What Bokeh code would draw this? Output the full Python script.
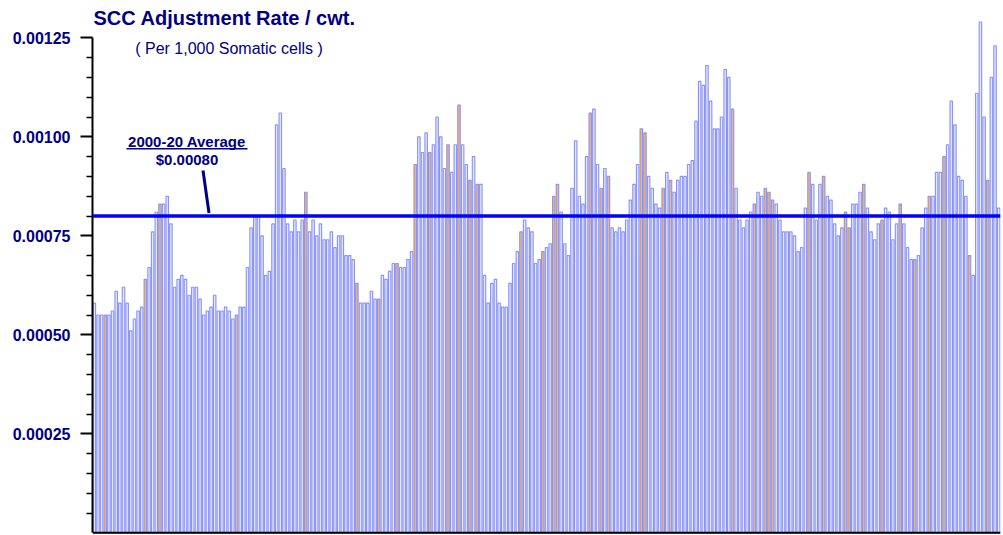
from bokeh.plotting import figure
from bokeh.models import (Range1d, FixedTicker, NumeralTickFormatter, Span, Label,
                          ColumnDataSource)
from bokeh.embed import file_html
from bokeh.resources import INLINE

# ---------------- data ----------------
title_text = "SCC Adjustment Rate / cwt."
subtitle_text = "( Per 1,000 Somatic cells )"
avg_title = "2000-20 Average"
avg_label = "$0.00080"
average_rate = 0.00080

# monthly SCC adjustment rate, $ per cwt per 1,000 cells (x 1e-5)
rate_e5 = [
    58, 55, 55, 55, 55, 56, 61, 58, 62, 58, 51, 54, 56, 57, 64, 67, 76, 81, 83, 83,
    85, 78, 62, 64, 65, 64, 60, 62, 62, 59, 55, 56, 57, 60, 56, 56, 57, 56, 54, 55,
    57, 57, 67, 77, 80, 80, 75, 65, 66, 78, 103, 106, 92, 78, 76, 79, 76, 79, 86, 76,
    79, 75, 78, 74, 74, 76, 72, 75, 75, 70, 70, 69, 63, 58, 58, 58, 61, 59, 59, 65,
    64, 66, 68, 68, 67, 67, 69, 71, 93, 100, 96, 101, 96, 98, 105, 100, 92, 98, 91, 98,
    108, 98, 93, 89, 95, 88, 88, 65, 58, 63, 64, 58, 57, 57, 63, 68, 71, 76, 79, 77,
    76, 68, 69, 71, 72, 73, 85, 88, 81, 73, 70, 87, 99, 85, 83, 95, 106, 107, 93, 87,
    92, 90, 77, 76, 77, 76, 79, 84, 88, 93, 102, 101, 90, 87, 83, 82, 87, 91, 89, 86,
    89, 90, 90, 93, 94, 104, 114, 113, 118, 109, 102, 102, 105, 117, 115, 107, 87, 79, 77, 79,
    81, 83, 86, 85, 87, 86, 84, 83, 79, 76, 76, 76, 75, 71, 72, 82, 91, 88, 79, 88,
    90, 85, 84, 78, 75, 77, 81, 77, 83, 83, 86, 88, 82, 76, 74, 78, 79, 82, 81, 74,
    78, 83, 78, 72, 69, 69, 70, 77, 82, 85, 85, 91, 91, 95, 98, 109, 103, 90, 89, 85,
    70, 65, 111, 129, 105, 89, 115, 123, 82,
]
# months drawn with an orange fill (1-based positions)
marked_months = [4, 15, 19, 40, 59, 73, 79, 84, 89, 93, 98, 101, 104, 106, 118, 124,
                 127, 128, 137, 140, 142, 151, 152, 157, 159, 176, 182, 185, 186, 187,
                 197, 201, 207, 208, 212, 217, 222, 226, 230, 234, 241, 246]

tick_values = [0.00025, 0.00050, 0.00075, 0.00100, 0.00125]

# ---------------- layout constants ----------------
FIG_W, FIG_H = 1002, 534
BORDER_L, BORDER_R = 92, 2
N = len(rate_e5)
FRAME_W = FIG_W - BORDER_L - BORDER_R
PPX = FRAME_W / N
ZERO_Y = 532.3            # page y of zero
PPU = 396000.0            # pixels per unit value
Y_START = -(FIG_H - ZERO_Y) / PPU
Y_END = ZERO_Y / PPU
X_START, X_END = 0.5, N + 0.5

def fx(page_x):
    return X_START + (page_x - BORDER_L) / PPX

def fy(page_y):
    return (ZERO_Y - page_y) / PPU

NAVY = "#000080"
FONT = "Liberation Sans"

rates = [v * 1e-5 for v in rate_e5]
months = list(range(1, N + 1))
fills = ["#f5b46c" if m in marked_months else "#e4e7ff" for m in months]
src = ColumnDataSource(dict(x=months, top=rates, fill=fills))

p = figure(width=FIG_W, height=FIG_H, output_backend="svg", toolbar_location=None,
           x_range=Range1d(X_START, X_END), y_range=Range1d(Y_START, Y_END),
           x_axis_location=None, min_border_left=BORDER_L, min_border_right=BORDER_R,
           min_border_top=0, min_border_bottom=0, title=None)
p.outline_line_color = None
p.grid.visible = False
p.background_fill_color = "white"

p.vbar(x="x", top="top", bottom=0, width=0.68, source=src, fill_color="fill",
       line_color="#8c95f6", line_width=1.15)

# y axis
ax = p.yaxis[0]
ax.ticker = FixedTicker(ticks=tick_values,
                        minor_ticks=[k * 0.00005 for k in range(1, 25) if k % 5])
ax.formatter = NumeralTickFormatter(format="0.00000")
ax.bounds = (0, 0.00125)
ax.axis_line_color = "black"
ax.axis_line_width = 2
ax.major_tick_line_color = "black"
ax.major_tick_line_width = 2
ax.major_tick_in = 0
ax.major_tick_out = 12
ax.minor_tick_line_color = "black"
ax.minor_tick_line_width = 1.5
ax.minor_tick_in = 0
ax.minor_tick_out = 6
ax.major_label_standoff = 10
ax.major_label_text_font = FONT
ax.major_label_text_font_style = "bold"
ax.major_label_text_font_size = "16px"
ax.major_label_text_color = NAVY

# baseline and average line
p.add_layout(Span(location=0, dimension="width", line_color="black", line_width=2))
p.add_layout(Span(location=average_rate, dimension="width", line_color="#0000ff",
                  line_width=3.3))

# titles (anchored at text middle)
p.add_layout(Label(x=fx(93), y=fy(17), text=title_text, text_font=FONT,
                   text_font_style="bold", text_font_size="20px", text_color=NAVY,
                   text_align="left", text_baseline="middle"))
p.add_layout(Label(x=fx(228.5), y=fy(47.5), text=subtitle_text, text_font=FONT,
                   text_font_size="16px", text_color=NAVY,
                   text_align="center", text_baseline="middle"))

# average annotation
p.add_layout(Label(x=fx(186.5), y=fy(140.5), text=avg_title, text_font=FONT,
                   text_font_style="bold", text_font_size="15px", text_color=NAVY,
                   text_align="center", text_baseline="middle"))
p.segment(x0=[fx(126)], y0=[fy(148.2)], x1=[fx(247)], y1=[fy(148.2)],
          line_color=NAVY, line_width=1.4)
p.add_layout(Label(x=fx(186.5), y=fy(159), text=avg_label, text_font=FONT,
                   text_font_style="bold", text_font_size="15px", text_color=NAVY,
                   text_align="center", text_baseline="middle"))
p.segment(x0=[fx(202.5)], y0=[fy(170)], x1=[fx(208.5)], y1=[fy(212.5)],
          line_color=NAVY, line_width=3)

open("out.html", "w").write(file_html(p, INLINE))
